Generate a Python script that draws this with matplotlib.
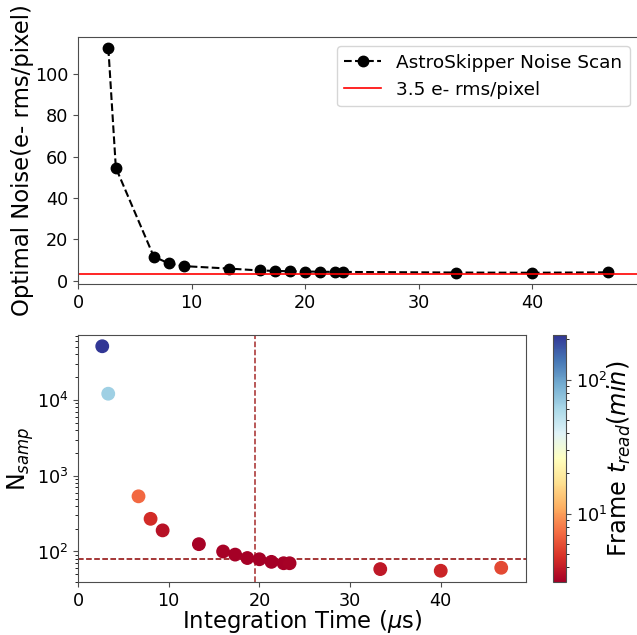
import numpy as np
import matplotlib
matplotlib.use("Agg")
import matplotlib.pyplot as plt
from matplotlib.colors import LogNorm

# integration time per sample (us)
t_int = [2.67, 3.33, 6.67, 8.0, 9.33, 13.33, 16.0, 17.33, 18.67, 20.0,
         21.33, 22.67, 23.33, 33.33, 40.0, 46.67]
# optimal noise from the scan (e- rms/pixel)
noise = [112.3, 54.6, 11.7, 8.4, 7.1, 5.9, 5.0, 4.8, 4.6, 4.5,
         4.4, 4.3, 4.3, 4.0, 3.9, 4.1]
# number of samples needed to reach the target noise
n_samp = [51200, 12100, 535, 270, 190, 125, 100, 91, 82, 79,
          73, 70, 70, 58.6, 55.7, 61]
# frame readout time (min)
t_read = [215, 66, 7.0, 4.6, 3.6, 3.2, 3.2, 3.15, 3.1, 3.15,
          3.15, 3.15, 3.2, 3.85, 4.3, 5.7]

target_noise = 3.5
n_samp_target = 80
t_int_target = 19.5

fig = plt.figure(figsize=(6.37, 6.35), dpi=100)
ax1 = fig.add_axes([0.1225, 0.5528, 0.8805, 0.3889])
ax2 = fig.add_axes([0.1225, 0.0835, 0.7032, 0.3889])
cax = fig.add_axes([0.868, 0.0835, 0.0205, 0.3889])

for a in (ax1, ax2, cax):
    for s in a.spines.values():
        s.set_edgecolor("0.3")
    a.tick_params(colors="black", color="0.3", labelsize=12.7)

ax1.plot(t_int, noise, "--o", color="black", ms=7.5, lw=1.5,
         label="AstroSkipper Noise Scan")
ax1.axhline(target_noise, color="red", lw=1.2, label="3.5 e- rms/pixel")
ax1.set_xlim(0, 49.4)
ax1.set_xticks([0, 10, 20, 30, 40])
ax1.set_yticks([0, 20, 40, 60, 80, 100])
ax1.set_ylabel("Optimal Noise(e- rms/pixel)", fontsize=16.4, labelpad=1)
ax1.legend(loc="upper right", fontsize=13.3)

sc = ax2.scatter(t_int, n_samp, c=t_read, cmap="RdYlBu",
                 norm=LogNorm(vmin=min(t_read), vmax=max(t_read)),
                 s=80, zorder=3)
ax2.axhline(n_samp_target, color="darkred", ls="--", lw=1.1)
ax2.axvline(t_int_target, color="brown", ls="--", lw=1.1)
ax2.set_yscale("log")
ax2.set_xlim(0, 49.4)
ax2.set_xticks([0, 10, 20, 30, 40])
ax2.set_ylabel("N$_{samp}$", fontsize=17, labelpad=0.5)
ax2.set_xlabel("Integration Time ($\\mu$s)", fontsize=16.4, labelpad=-1)

cb = fig.colorbar(sc, cax=cax)
cb.set_label("Frame $t_{read}(min)$", fontsize=17.3, labelpad=-1)
cb.outline.set_edgecolor("0.3")

fig.savefig("out.png", dpi=100)
